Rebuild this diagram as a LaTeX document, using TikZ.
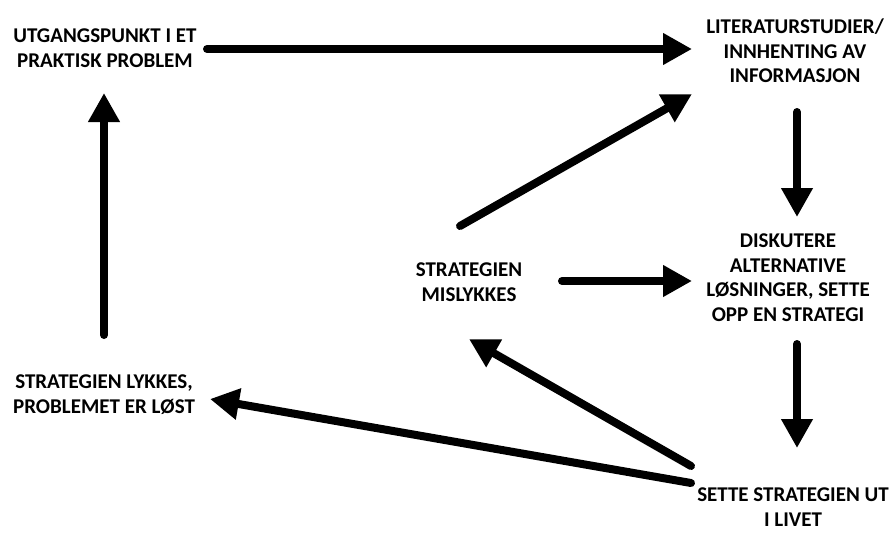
\documentclass[tikz,border=0pt]{standalone}
\usepackage{fontspec}
\setmainfont{Carlito}
\usetikzlibrary{arrows.meta,calc}
\begin{document}
\begin{tikzpicture}[x=1pt,y=-1pt,
  lbl/.style={font=\bfseries\fontsize{21}{24.5}\selectfont, align=center,
    inner sep=0pt, anchor=north},
  arr/.style={line width=8pt, line cap=round,
    -{Triangle[length=29pt,width=30pt]}}]
\useasboundingbox (0,0) rectangle (896,533);

% stages of the cycle
\node[lbl] (prob) at (105,29)  {UTGANGSPUNKT I ET\\PRAKTISK PROBLEM};
\node[lbl] (lit)  at (795,19)  {LITERATURSTUDIER/\\INNHENTING AV\\INFORMASJON};
\node[lbl] (disk) at (788,234) {DISKUTERE\\ALTERNATIVE\\LØSNINGER, SETTE\\OPP EN STRATEGI};
\node[lbl] (sett) at (793,488) {SETTE STRATEGIEN UT\\I LIVET};
\node[lbl] (misl) at (469,263) {STRATEGIEN\\MISLYKKES};
\node[lbl] (lykk) at (104,375) {STRATEGIEN LYKKES,\\PROBLEMET ER LØST};

% transitions
\draw[arr] ($(prob.north)+(102,20)$) -- ($(lit.north)+(-103,30)$);
\draw[arr] ($(misl.north)+(-9,-37)$) -- ($(lit.north)+(-103,75)$);
\draw[arr] ($(lit.north)+(2,93)$)    -- ($(disk.north)+(9,-17)$);
\draw[arr] ($(misl.north)+(93,18)$)  -- ($(disk.north)+(-96,47)$);
\draw[arr] ($(disk.north)+(9,110)$)  -- ($(sett.north)+(4,-40)$);
\draw[arr] ($(sett.north)+(-102,-22)$) -- ($(misl.north)+(0,76)$);
\draw[arr] ($(sett.north)+(-102,-5)$)  -- ($(lykk.north)+(106,24)$);
\draw[arr] ($(lykk.north)+(0,-40)$)  -- ($(prob.north)+(-1,64)$);
\end{tikzpicture}
\end{document}
